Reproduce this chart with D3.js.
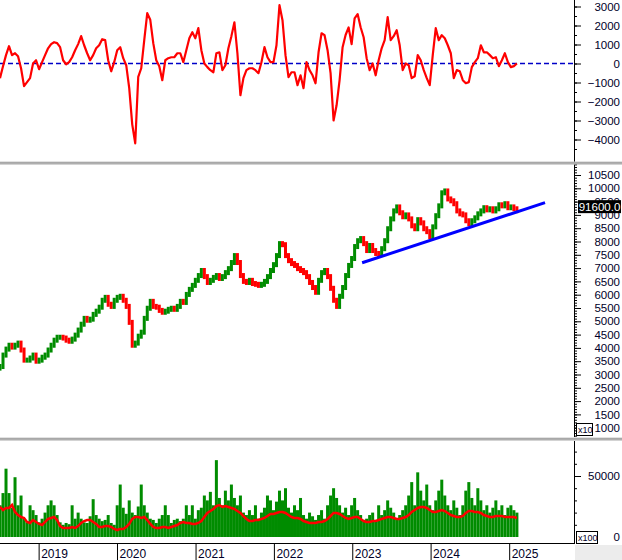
<!DOCTYPE html>
<html><head><meta charset="utf-8">
<script src="https://cdn.jsdelivr.net/npm/d3@7"></script>
<style>
body{margin:0;background:#fff;}
svg{display:block;font-family:"Liberation Sans",Arial,sans-serif;}
</style>
</head><body>
<svg id="chart" width="622" height="560"></svg>
<script>
// ---------------- DATA ----------------
const startDate = new Date(2018, 6, 5);   // first bar
const stepDays = 14;                        // one bar every two weeks
const yearTicks = [2019, 2020, 2021, 2022, 2023, 2024, 2025];
const oscTicks = [3000, 2000, 1000, 0, -1000, -2000, -3000, -4000];
const priceTicks = [10500, 10000, 9500, 9000, 8500, 8000, 7500, 7000, 6500, 6000, 5500, 5000, 4500, 4000, 3500, 3000, 2500, 2000, 1500, 1000];
const volTicks = [50000, 0];
const lastPriceLabel = "91600.0";
const lastPrice = 9160;
const trendDates = ["2023-02-16", "2025-06-17"];
const trendValues = [7200, 9460];

const oscValues = [
-770,-140,440,910,440,540,380,-250,-1190,-980,-770,0,170,-300,70,440,800,1020,1120,1070,
860,170,-40,70,330,700,1020,1440,960,540,170,440,800,960,1280,1230,170,-410,70,700,
860,280,-90,-1300,-3200,-4200,-700,-250,1230,2650,2300,1070,170,-140,-880,170,280,330,330,540,
540,70,700,1330,1650,1330,1860,700,0,-190,-350,-460,540,590,-350,-90,800,1440,2170,540,
-1670,-770,-350,-250,-250,-350,-510,70,860,330,70,70,960,3070,2280,440,-720,-460,-460,-1140,
-620,-1300,70,-350,-620,-1040,590,1590,1490,700,-510,-3000,-2200,-880,860,1500,1900,1020,2380,2600,
1910,1380,280,-350,0,-620,170,800,1230,2440,1230,1440,1750,960,-350,0,-90,-770,-670,440,
170,-350,-770,-1140,440,1860,1230,1490,1330,960,540,-770,-350,-410,-880,-1040,-980,-190,70,280,
960,590,590,440,280,330,-140,170,540,70,-190,-140,0
];

const priceClose = [
3300,3730,3955,4100,4030,4100,4180,3920,3540,3540,3620,3730,3500,3540,3650,3730,3920,4100,4290,4400,
4400,4370,4290,4250,4330,4480,4670,4890,5110,5040,5080,5260,5380,5530,5790,5900,5640,5560,5790,5900,
5940,5790,5560,4960,4100,4180,4440,4590,5110,5490,5750,5560,5530,5410,5340,5380,5450,5490,5450,5560,
5750,5710,6010,6200,6350,6540,6720,6910,6680,6460,6540,6650,6720,6610,6680,6830,6980,7210,7470,7210,
6720,6500,6460,6540,6420,6390,6350,6390,6500,6680,6910,7130,7470,7920,7880,7470,7280,7170,7100,6980,
6910,6830,6680,6460,6270,6090,6540,6830,6910,6680,6240,5790,5560,5940,6270,6720,7100,7360,7810,8030,
8110,7920,7660,7850,7660,7550,7510,7730,8030,8480,8850,9150,9300,9080,8930,9000,8850,8590,8480,8820,
8700,8480,8370,8180,8550,8970,9340,9830,9900,9600,9530,9420,9150,9040,9000,8780,8670,8780,8890,9040,
9150,9270,9190,9230,9150,9230,9380,9340,9420,9270,9300,9230,9160
];

const volume = [
26000,36000,56000,36000,24000,49000,26000,34000,15000,12000,26000,22000,18000,12000,15000,20000,26000,30000,26000,18000,
12000,10000,11500,10500,26000,15000,20000,15000,12000,11500,17000,31000,18000,15000,13000,14000,18000,11500,10000,26000,
43000,24000,19000,30000,20000,18000,25000,43000,26000,20000,15000,14000,11500,15000,18000,26000,18000,11500,14000,15000,
13000,15000,26000,18000,26000,15000,22000,24000,34000,30000,37000,26000,63000,32000,26000,38000,30000,43000,32000,26000,
34000,20000,18000,22000,18000,26000,15000,20000,24000,34000,30000,22000,29000,38000,30000,40000,24000,20000,26000,22000,
32000,18000,15000,20000,17000,14000,18000,22000,15000,26000,34000,40000,32000,26000,20000,24000,18000,26000,32000,22000,
18000,14000,15000,18000,20000,14000,26000,18000,22000,30000,24000,20000,15000,18000,22000,26000,34000,45000,26000,53000,
38000,30000,43000,26000,22000,30000,38000,47000,34000,26000,22000,30000,24000,18000,26000,38000,45000,32000,26000,40000,
30000,22000,26000,20000,24000,30000,22000,26000,18000,24000,26000,22000,20000
];

const volumeMA = [
24600,22100,23800,23800,26200,20500,18000,16400,15600,12300,11500,13900,12300,10700,9800,12300,14800,15600,16400,13900,
9000,7400,7400,7400,8200,7400,9000,11500,13100,13900,13900,12300,10700,8200,8200,9000,9000,8200,6600,5700,
6600,6600,8200,10700,14800,16400,16400,15600,16400,13900,10700,8200,7400,7400,8200,8200,7400,8200,9000,9800,
11500,12300,11500,11500,10700,10700,11500,13100,16400,19700,21300,23000,25400,26200,24600,25400,24600,23800,23000,21300,
19700,17200,14800,13100,13100,13900,13900,14800,15600,17200,18900,18900,19700,20500,20500,19700,18000,16400,15600,15600,
14800,13100,12300,11500,11500,11500,12300,12300,13100,14800,17200,19700,19700,18900,17200,15600,14800,15600,16400,16400,
14800,13100,12300,12300,13100,13100,13900,14800,15600,16400,16400,15600,14800,14800,15600,16400,18000,20500,22100,23800,
24600,24600,23800,22100,20500,20500,21300,22100,21300,19700,18000,17200,16400,16400,17200,19700,21300,21300,20500,20500,
19700,18000,17200,16400,16400,17200,17200,17200,16400,16400,16400,16400,15600
];

// ---------------- LAYOUT ----------------
const W = 622, H = 560, axisX = 574;
const svg = d3.select("#chart");
const dates = priceClose.map((_, i) => d3.timeDay.offset(startDate, i * stepDays));

const x = d3.scaleTime()
  .domain([startDate, new Date(2025, 9, 30)])
  .range([0, axisX]);

const yOsc = d3.scaleLinear().domain([-4000, 3000]).range([139.5, 6.5]);
const yPrice = d3.scaleLinear().domain([1000, 10500]).range([427.7, 175]);
const yVol = d3.scaleLinear().domain([0, 50000]).range([537, 476]);

const RED = "#ff0000", GREEN = "#008c00", BLUE = "#0000ff", LABEL = "#000028";
const FONT = '"Liberation Sans",Arial,sans-serif';

svg.append("rect").attr("width", W).attr("height", H).attr("fill", "#fff");

const defs = svg.append("defs");
function clip(id, y0, y1) {
  defs.append("clipPath").attr("id", id).append("rect")
    .attr("x", 0).attr("y", y0).attr("width", axisX).attr("height", y1 - y0);
  return `url(#${id})`;
}

// ---------- top panel: oscillator ----------
const gTop = svg.append("g").attr("clip-path", clip("cTop", 0, 162));
gTop.append("line")
  .attr("x1", 0).attr("x2", axisX)
  .attr("y1", yOsc(0)).attr("y2", yOsc(0))
  .attr("stroke", "#0000c8").attr("stroke-width", 1.3)
  .attr("stroke-dasharray", "5,3");
gTop.append("path")
  .datum(oscValues)
  .attr("fill", "none").attr("stroke", RED).attr("stroke-width", 2.2)
  .attr("stroke-linejoin", "round")
  .attr("d", d3.line().x((d, i) => x(dates[i])).y(d => yOsc(d)));

// ---------- middle panel: price ----------
const gMid = svg.append("g").attr("clip-path", clip("cMid", 165, 437));
const candles = priceClose.map((c, i) => ({
  date: dates[i], open: i === 0 ? c - 60 : priceClose[i - 1], close: c
}));
const pad = 2.5;
gMid.selectAll("rect.candle").data(candles).enter().append("rect")
  .attr("class", "candle")
  .attr("x", d => x(d.date) - 1.5)
  .attr("width", 3)
  .attr("y", d => Math.min(yPrice(d.open), yPrice(d.close)) - pad)
  .attr("height", d => Math.abs(yPrice(d.open) - yPrice(d.close)) + 2 * pad)
  .attr("fill", d => d.close >= d.open ? GREEN : RED);

gMid.append("line")
  .attr("x1", x(new Date(trendDates[0]))).attr("y1", yPrice(trendValues[0]))
  .attr("x2", x(new Date(trendDates[1]))).attr("y2", yPrice(trendValues[1]))
  .attr("stroke", BLUE).attr("stroke-width", 3);

// ---------- bottom panel: volume ----------
const gBot = svg.append("g").attr("clip-path", clip("cBot", 441, 542));
gBot.selectAll("rect.vol").data(volume).enter().append("rect")
  .attr("class", "vol")
  .attr("x", (d, i) => x(dates[i]) - 1.5)
  .attr("width", 3)
  .attr("y", d => yVol(d))
  .attr("height", d => yVol(0) - yVol(d))
  .attr("fill", GREEN);
gBot.append("path")
  .datum(volumeMA)
  .attr("fill", "none").attr("stroke", RED).attr("stroke-width", 2.5)
  .attr("d", d3.line().x((d, i) => x(dates[i])).y(d => yVol(d)));

// ---------- right axes ----------
function rightAxis(scale, major, minor, yTop, yBot) {
  const g = svg.append("g").attr("transform", `translate(${axisX},0)`);
  g.append("g").call(d3.axisRight(scale).tickValues(minor).tickSize(3).tickFormat(""))
    .call(s => s.select(".domain").remove());
  g.append("g").call(d3.axisRight(scale).tickValues(major).tickSize(7).tickFormat(d3.format("d")))
    .call(s => s.select(".domain").remove())
    .call(s => s.selectAll("text")
      .attr("x", 46).attr("text-anchor", "end")
      .attr("font-size", 11.5).attr("fill", LABEL)
      .attr("font-family", FONT));
  g.selectAll("line").attr("stroke", "#000");
  g.append("line").attr("x1", 0.5).attr("x2", 0.5).attr("y1", yTop).attr("y2", yBot).attr("stroke", "#000");
  return g;
}
rightAxis(yOsc, oscTicks, d3.range(-4500, 3501, 500), 0, 162);
rightAxis(yPrice, priceTicks, d3.range(700, 10901, 100), 165, 437);
rightAxis(yVol, [50000], d3.range(10000, 70001, 10000), 441, 544);

svg.append("text").attr("x", 620).attr("y", yVol(0) + 4).attr("text-anchor", "end")
  .attr("font-size", 11.5).attr("fill", LABEL).text("0");

// multiplier boxes
function multBox(xx, yy, w, label) {
  const g = svg.append("g");
  g.append("rect").attr("x", xx).attr("y", yy).attr("width", w).attr("height", 12)
    .attr("fill", "#fff").attr("stroke", "#000").attr("stroke-width", 1);
  g.append("text").attr("x", xx + 1.5).attr("y", yy + 9.5).attr("font-size", 9).attr("fill", LABEL).text(label);
}
multBox(576.5, 423.5, 16, "x10");
multBox(576.5, 531.5, 21, "x100");

// last price label
const ly = yPrice(lastPrice) - 4;
svg.append("rect").attr("x", 578).attr("y", ly - 6.5).attr("width", 43).attr("height", 13).attr("fill", "#000");
svg.append("text").attr("x", 599.5).attr("y", ly + 4).attr("text-anchor", "middle")
  .attr("font-size", 11.5).attr("fill", "#fff").text(lastPriceLabel);

// panel separators
[163, 439].forEach(yy => {
  svg.append("rect").attr("x", 0).attr("y", yy - 1.5).attr("width", W).attr("height", 1).attr("fill", "#c8c8c8");
  svg.append("rect").attr("x", 0).attr("y", yy - 0.5).attr("width", W).attr("height", 1).attr("fill", "#6e6e6e");
  svg.append("rect").attr("x", 0).attr("y", yy + 0.5).attr("width", W).attr("height", 1).attr("fill", "#a8a8a8");
});

// ---------- bottom time axis ----------
svg.append("rect").attr("x", axisX + 1).attr("y", 545).attr("width", W - axisX - 1).attr("height", 15).attr("fill", "#ececec");
svg.append("line").attr("x1", 0).attr("x2", axisX + 1).attr("y1", 543.5).attr("y2", 543.5).attr("stroke", "#000");
const xAxisG = svg.append("g").attr("transform", "translate(0,543)");
xAxisG.call(d3.axisBottom(x)
    .tickValues(yearTicks.map(yv => new Date(yv, 0, 1)))
    .tickSize(17).tickFormat(d3.timeFormat("%Y")))
  .call(s => s.select(".domain").remove())
  .call(s => s.selectAll("line").attr("stroke", "#000"))
  .call(s => s.selectAll("text")
    .attr("text-anchor", "start").attr("x", 2).attr("y", 6).attr("dy", "0.71em")
    .attr("font-size", 12).attr("fill", LABEL)
    .attr("font-family", FONT));
</script>
</body></html>
